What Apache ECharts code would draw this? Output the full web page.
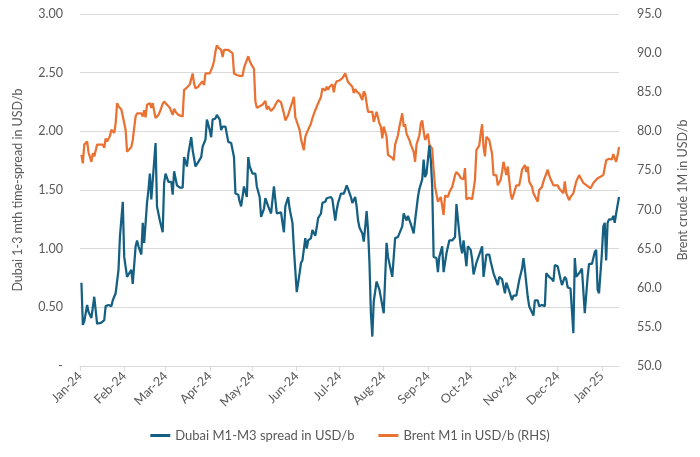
<!DOCTYPE html>
<html><head><meta charset="utf-8">
<script src="https://cdn.jsdelivr.net/npm/echarts@6/dist/echarts.min.js"></script>
<style>html,body{margin:0;padding:0;background:#fff}#c{width:700px;height:457px}</style>
</head><body><div id="c"></div>
<script>
// Day offsets counted from 1 Jan 2024 (0 = 1 Jan 2024)
const monthStarts = [0,31,60,91,121,152,182,213,244,274,305,335,366];
const monthLabels = ['Jan-24','Feb-24','Mar-24','Apr-24','May-24','Jun-24','Jul-24','Aug-24','Sep-24','Oct-24','Nov-24','Dec-24','Jan-25'];

const dubaiDays = [1,2,3,5,6,8,10,11,12,15,17,18,20,22,23,24,25,27,28,30,31,33,34,35,36,37,39,40,41,43,44,45,47,48,49,50,51,53,54,56,58,59,60,62,64,65,66,68,70,72,73,75,76,78,79,81,83,85,86,88,89,91,92,93,95,96,98,99,100,102,104,106,108,109,111,112,113,115,116,117,118,119,121,123,124,126,127,129,130,132,133,134,136,138,139,141,142,143,144,146,147,149,150,151,152,154,155,156,158,159,160,162,163,165,166,167,169,170,172,173,174,176,177,179,180,181,183,185,186,187,188,190,191,193,194,195,196,198,199,200,201,202,203,204,205,206,208,210,213,215,216,219,221,223,226,227,229,230,232,234,235,237,238,240,241,242,243,245,246,247,248,250,251,252,254,255,257,259,261,263,264,266,267,268,269,271,272,274,275,276,278,280,282,283,285,287,288,290,291,293,294,296,298,299,301,303,304,306,308,310,311,312,314,315,318,319,321,322,324,326,327,329,331,332,333,335,337,338,340,341,342,344,345,346,347,348,350,352,353,354,356,357,359,360,361,362,363,364,366,367,368,369,370,371,373,374,375,376,378];
const dubaiSpread = [0.71,0.35,0.38,0.52,0.46,0.41,0.59,0.58,0.36,0.37,0.39,0.51,0.52,0.51,0.56,0.56,0.62,0.82,1.10,1.40,0.93,0.76,0.75,0.80,0.82,0.70,1.02,1.07,1.02,0.95,1.22,1.05,1.39,1.50,1.64,1.42,1.42,1.90,1.36,1.24,1.14,1.56,1.64,1.57,1.57,1.46,1.66,1.54,1.52,1.52,1.78,1.70,1.81,1.95,1.84,1.70,1.74,1.78,1.87,1.93,2.10,2.01,1.95,2.10,2.11,2.14,2.10,2.01,2.04,2.04,1.91,1.90,1.78,1.47,1.46,1.40,1.36,1.53,1.53,1.44,1.78,1.70,1.64,1.64,1.53,1.44,1.27,1.34,1.43,1.36,1.33,1.30,1.53,1.30,1.30,1.31,1.22,1.14,1.36,1.44,1.34,1.22,1.00,0.99,0.63,0.79,0.88,0.90,1.09,1.00,1.07,1.09,1.16,1.11,1.18,1.26,1.30,1.39,1.40,1.43,1.42,1.44,1.42,1.24,1.33,1.39,1.47,1.47,1.50,1.54,1.51,1.44,1.39,1.44,1.36,1.24,1.18,1.13,1.06,1.18,1.32,1.16,0.88,0.45,0.25,0.55,0.72,0.65,0.45,1.05,0.93,0.76,1.09,1.10,1.19,1.30,1.24,1.28,1.21,1.13,1.24,1.44,1.51,1.59,1.76,1.61,1.64,1.88,1.76,1.53,0.93,0.92,0.80,0.93,1.02,0.80,0.96,1.07,1.07,1.10,1.38,1.13,1.02,0.96,1.07,0.85,1.02,0.99,0.91,0.78,0.88,0.95,1.02,0.76,0.95,0.95,0.89,0.79,0.79,0.69,0.76,0.74,0.62,0.71,0.64,0.56,0.60,0.60,0.73,0.83,0.92,0.82,0.59,0.51,0.43,0.56,0.56,0.51,0.52,0.51,0.79,0.76,0.74,0.72,0.86,0.85,0.74,0.69,0.76,0.74,0.67,0.66,0.66,0.28,0.92,0.76,0.79,0.83,0.84,0.45,0.76,0.87,0.87,0.87,0.97,0.99,0.65,0.62,0.96,1.19,1.22,0.90,1.22,1.25,1.25,1.28,1.22,1.30,1.44];

const brentDays = [1,2,3,4,5,6,8,9,10,12,14,16,17,18,19,21,22,24,25,26,27,29,30,32,33,34,36,37,39,40,41,43,44,45,46,47,49,50,51,52,53,55,56,58,59,61,63,64,65,66,67,69,70,72,73,75,77,79,80,81,83,84,86,87,88,89,91,93,94,95,96,97,99,100,101,102,104,105,107,108,110,111,112,114,115,116,118,119,120,122,123,124,126,127,128,130,131,132,133,134,136,137,139,140,141,143,144,146,147,149,150,151,152,154,155,157,158,159,160,162,163,165,166,167,169,170,172,173,174,175,177,178,179,180,182,184,186,187,188,189,191,192,193,194,196,198,199,200,201,202,203,205,206,208,210,211,212,213,215,216,217,219,220,221,223,224,226,227,228,229,231,232,234,235,236,238,239,240,241,242,244,245,247,248,249,250,251,253,254,255,256,258,259,261,262,263,264,266,267,269,270,271,273,275,277,278,280,281,282,283,284,285,287,288,289,290,292,293,295,296,297,299,300,302,303,305,306,308,309,310,312,313,314,315,317,318,319,321,322,324,325,326,328,329,330,332,333,335,336,337,339,340,341,343,344,346,347,348,350,351,353,354,356,358,359,360,361,363,365,367,368,369,371,372,373,374,376,377,378];
const brentM1 = [77.0,75.9,78.3,78.2,78.7,77.3,76.1,77.2,76.8,78.3,78.3,78.3,77.9,79.1,78.7,79.4,80.2,79.8,81.0,83.6,83.2,82.8,83.0,80.2,77.4,77.6,78.0,78.9,81.9,82.3,82.1,82.3,81.9,82.7,81.8,83.4,83.6,83.0,83.6,82.6,81.7,82.1,82.5,83.5,83.8,83.4,83.0,82.8,82.1,82.9,82.5,82.1,82.1,81.9,85.3,85.6,86.0,87.4,86.1,85.5,85.7,86.0,86.4,85.9,87.4,87.4,87.4,88.3,89.0,90.2,91.0,90.7,90.4,89.5,90.4,90.2,90.4,90.2,90.0,87.4,87.2,87.2,87.1,87.1,88.1,88.2,89.6,89.0,88.6,88.0,83.8,83.0,83.2,83.3,83.4,83.9,82.8,83.2,83.1,82.6,83.0,83.4,84.0,83.8,83.7,82.3,81.4,82.1,82.7,83.8,84.4,81.8,81.6,80.2,79.0,77.6,79.3,79.8,80.0,81.0,81.7,82.7,82.8,83.6,84.4,85.5,85.2,85.7,85.3,85.7,86.0,85.0,86.0,86.4,86.5,86.8,87.4,87.4,86.3,86.1,85.7,84.9,85.4,85.1,84.8,84.0,85.1,84.8,83.6,82.5,82.7,82.5,81.2,82.5,81.0,80.6,79.1,80.6,79.3,77.0,76.8,76.6,76.3,78.3,79.5,80.6,82.3,80.6,80.9,79.7,78.9,78.3,77.4,76.1,78.3,79.5,81.0,81.4,80.0,78.9,79.7,78.3,77.8,75.1,72.9,72.7,71.0,71.6,71.8,69.3,71.8,71.6,72.2,72.9,73.6,74.4,74.8,74.4,74.0,73.9,75.3,71.3,71.5,71.3,73.8,77.6,78.2,79.7,80.9,78.0,76.8,79.3,78.9,78.0,77.1,74.4,74.4,73.1,73.8,74.8,76.1,74.4,75.5,72.1,71.3,72.5,73.1,73.1,74.0,75.1,75.7,74.8,75.5,73.6,72.9,72.1,72.3,71.0,72.5,72.9,73.6,73.4,75.1,74.4,73.9,73.1,72.9,73.1,72.7,72.7,72.1,73.6,72.1,71.2,71.6,72.1,72.3,73.6,74.4,74.2,73.4,73.3,73.0,72.7,72.5,73.4,73.2,74.0,74.2,74.4,74.6,76.3,76.5,76.3,76.4,77.1,76.1,76.9,78.0];

const leftTicks = {min:0, max:3, interval:0.5};
const rightTicks = {min:50, max:95, interval:5};

const zip = (a,b) => a.map((d,i)=>[d,b[i]]);
const txt = '#595959';
const font = 'Lato, "Open Sans", sans-serif';

const chart = echarts.init(document.getElementById('c'), null, {renderer:'canvas'});
chart.setOption({
  animation:false,
  textStyle:{fontFamily:font},
  grid:{left:80, right:81, top:14, bottom:91, containLabel:false},
  legend:{
    bottom:10, left:'center', itemGap:24, itemWidth:20, itemHeight:3, icon:'rect',
    textStyle:{color:txt, fontSize:13, fontFamily:font},
    data:['Dubai M1-M3 spread in USD/b','Brent M1 in USD/b (RHS)']
  },
  xAxis:{
    type:'value', min:0, max:378,
    axisLine:{show:true, lineStyle:{color:'#d9d9d9', width:1}},
    axisTick:{show:true, length:5, lineStyle:{color:'#d9d9d9'}, customValues:monthStarts},
    axisLabel:{color:txt, fontSize:12.5, rotate:45, margin:8, customValues:monthStarts,
      formatter:v=>{const i=monthStarts.indexOf(Math.round(v)); return i>=0?monthLabels[i]:'';}},
    splitLine:{show:false}
  },
  yAxis:[{
    type:'value', min:leftTicks.min, max:leftTicks.max, interval:leftTicks.interval,
    name:'Dubai 1-3 mth time-spread in USD/b', nameLocation:'middle', nameGap:56, nameRotate:90,
    nameTextStyle:{color:txt, fontSize:12.5},
    axisLine:{show:false}, axisTick:{show:false},
    axisLabel:{color:txt, fontSize:12.5, margin:17, formatter:v=>v===0?'-':v.toFixed(2)},
    splitLine:{lineStyle:{color:'#d9d9d9', width:1}}
  },{
    type:'value', min:rightTicks.min, max:rightTicks.max, interval:rightTicks.interval, position:'right',
    name:'Brent crude 1M in USD/b', nameLocation:'middle', nameGap:57, nameRotate:90,
    nameTextStyle:{color:txt, fontSize:12.5},
    axisLine:{show:false}, axisTick:{show:false},
    axisLabel:{color:txt, fontSize:12.5, margin:18, formatter:v=>v.toFixed(1)},
    splitLine:{show:false}
  }],
  series:[{
    name:'Dubai M1-M3 spread in USD/b', type:'line', yAxisIndex:0, showSymbol:false,
    data:zip(dubaiDays,dubaiSpread), lineStyle:{color:'#156082', width:2.25}, itemStyle:{color:'#156082'}, z:3
  },{
    name:'Brent M1 in USD/b (RHS)', type:'line', yAxisIndex:1, showSymbol:false,
    data:zip(brentDays,brentM1), lineStyle:{color:'#E97132', width:2.25}, itemStyle:{color:'#E97132'}, z:2
  }]
});
</script></body></html>
